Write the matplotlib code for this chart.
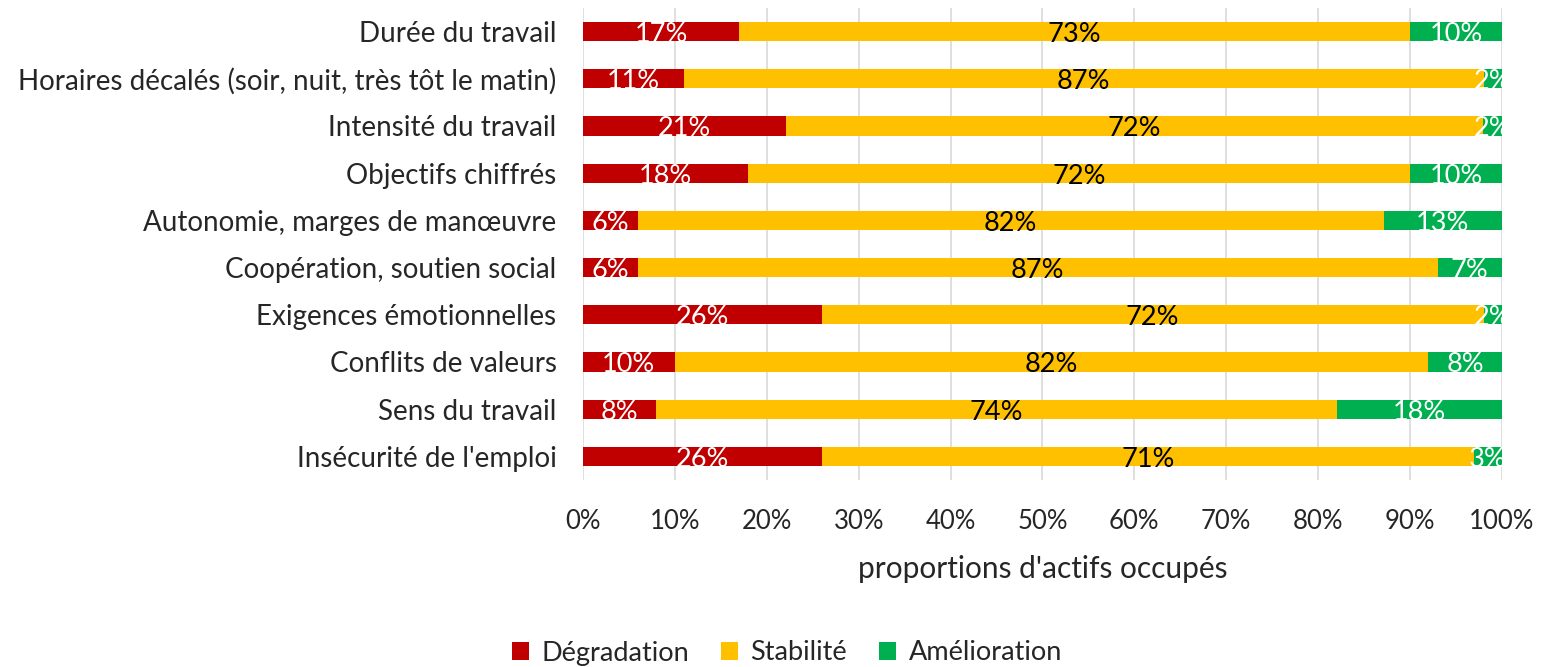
import numpy as np
import matplotlib.pyplot as plt
import matplotlib.ticker as mtick

plt.rcParams['font.family'] = ['Lato', 'DejaVu Sans']

categories = ["Durée du travail",
              "Horaires décalés (soir, nuit, très tôt le matin)",
              "Intensité du travail",
              "Objectifs chiffrés",
              "Autonomie, marges de manœuvre",
              "Coopération, soutien social",
              "Exigences émotionnelles",
              "Conflits de valeurs",
              "Sens du travail",
              "Insécurité de l'emploi"]
degradation = [17, 11, 21, 18, 6, 6, 26, 10, 8, 26]
stabilite = [73, 87, 72, 72, 82, 87, 72, 82, 74, 71]
amelioration = [10, 2, 2, 10, 13, 7, 2, 8, 18, 3]

series = [("Dégradation", degradation, '#C00000', 'white'),
          ("Stabilité", stabilite, '#FFC000', 'black'),
          ("Amélioration", amelioration, '#00B050', 'white')]

fig = plt.figure(figsize=(15.65, 6.67), dpi=100)
ax = fig.add_axes([0.3725, 0.2804, 0.5872, 0.7076])

# 100% stacked: each row normalised to its own total
total = np.array(degradation) + np.array(stabilite) + np.array(amelioration)
y = np.arange(len(categories))
left = np.zeros(len(categories))
for name, vals, color, tcolor in series:
    w = np.array(vals) / total
    bars = ax.barh(y, w, left=left, height=0.41, color=color, label=name, zorder=3)
    for b, v in zip(bars, vals):
        t = ax.text(b.get_x() + b.get_width() / 2, b.get_y() + b.get_height() / 2 + 0.06,
                    f"{v}%", ha='center', va='center', color=tcolor, fontsize=19.5, zorder=4)
        t.set_clip_path(b)
    left += w

ax.set_xlim(0, 1)
ax.set_ylim(len(categories) - 0.5, -0.5)
ax.set_yticks(y)
ax.set_yticklabels(categories, fontsize=20, color='#262626')
ax.xaxis.set_major_locator(mtick.MultipleLocator(0.1))
ax.xaxis.set_major_formatter(mtick.PercentFormatter(1.0, decimals=0))
ax.tick_params(axis='x', labelsize=18.5, colors='#262626', length=0, pad=21)
ax.tick_params(axis='y', length=0, pad=19)
ax.grid(axis='x', color='#D9D9D9', linewidth=1.2, zorder=0)
for s in ax.spines.values():
    s.set_visible(False)
ax.set_xlabel("proportions d'actifs occupés", fontsize=21.5, color='#262626', labelpad=15)

fig.legend(loc='center', bbox_to_anchor=(787 / 1565, 1 - 653 / 667), ncol=3, frameon=False,
           fontsize=19.5, handlelength=0.62, handleheight=0.62, handletextpad=0.45,
           columnspacing=1.2, labelcolor='#262626')

fig.savefig("out.png", dpi=100)
